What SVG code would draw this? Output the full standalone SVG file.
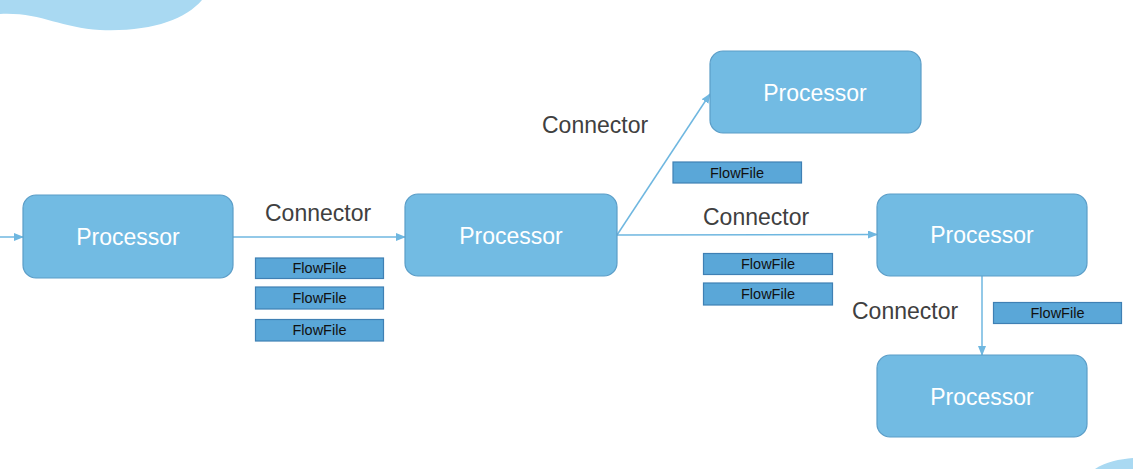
<svg xmlns="http://www.w3.org/2000/svg" width="1133" height="469" viewBox="0 0 1133 469">
<style>
.proc rect{fill:#72bbe3;stroke:#5b9dc7;stroke-width:1.2}
.proc text{fill:#ffffff;font-family:"Liberation Sans",Arial,sans-serif;font-size:23px;text-anchor:middle}
.ff rect{fill:#5aa7d8;stroke:#3f80b4;stroke-width:1.2}
.ff text{fill:#111111;font-family:"Liberation Sans",Arial,sans-serif;font-size:14.5px;text-anchor:middle}
.lbl{fill:#404040;font-family:"Liberation Sans",Arial,sans-serif;font-size:23px}
.conn{stroke:#6fb7e0;stroke-width:1.5;fill:none;marker-end:url(#arr)}
</style>
<defs>
<marker id="arr" markerWidth="10" markerHeight="8" refX="9" refY="4" orient="auto" markerUnits="userSpaceOnUse">
<path d="M0,0 L10,4 L0,8 Z" fill="#6fb7e0"/>
</marker>
</defs>
<rect width="1133" height="469" fill="#ffffff"/>
<path d="M0,0 L202,0 C185,20 150,32 100,30 C60,28 40,12 0,14 Z" fill="#a9d9f2"/>
<path d="M1095,469 C1105,462 1120,459 1133,458 L1133,469 Z" fill="#a9d9f2"/>

<g id="connectors">
<line class="conn" x1="0" y1="237" x2="23" y2="237"/>
<line class="conn" x1="233" y1="237" x2="405" y2="237"/>
<line class="conn" x1="617" y1="235" x2="877" y2="234.5"/>
<line class="conn" x1="617" y1="235" x2="710" y2="94"/>
<line class="conn" x1="982" y1="276" x2="982" y2="355"/>
</g>

<g id="labels">
<text class="lbl" x="265" y="221">Connector</text>
<text class="lbl" x="542" y="133">Connector</text>
<text class="lbl" x="703" y="225">Connector</text>
<text class="lbl" x="852" y="319">Connector</text>
</g>

<g id="p1" class="proc"><rect x="23" y="195" width="210" height="83" rx="13"/><text x="128" y="245">Processor</text></g>
<g id="p2" class="proc"><rect x="405" y="194" width="212" height="82" rx="13"/><text x="511" y="244">Processor</text></g>
<g id="p3" class="proc"><rect x="710" y="51" width="211" height="82" rx="13"/><text x="815" y="101">Processor</text></g>
<g id="p4" class="proc"><rect x="877" y="194" width="210" height="82" rx="13"/><text x="982" y="243">Processor</text></g>
<g id="p5" class="proc"><rect x="877" y="355" width="210" height="82" rx="13"/><text x="982" y="405">Processor</text></g>

<g id="ff1" class="ff"><rect x="255.5" y="258" width="128" height="20.5"/><text x="319.5" y="273">FlowFile</text></g>
<g id="ff2" class="ff"><rect x="255.5" y="287" width="128" height="22"/><text x="319.5" y="303">FlowFile</text></g>
<g id="ff3" class="ff"><rect x="255.5" y="319.5" width="128" height="21.5"/><text x="319.5" y="335">FlowFile</text></g>
<g id="ff4" class="ff"><rect x="673" y="162" width="128.5" height="21"/><text x="737" y="177.5">FlowFile</text></g>
<g id="ff5" class="ff"><rect x="703.5" y="253.5" width="129" height="21"/><text x="768" y="269.3">FlowFile</text></g>
<g id="ff6" class="ff"><rect x="703.5" y="283" width="129" height="22"/><text x="768" y="299">FlowFile</text></g>
<g id="ff7" class="ff"><rect x="993.5" y="302.5" width="128" height="21"/><text x="1057.5" y="318">FlowFile</text></g>
</svg>
